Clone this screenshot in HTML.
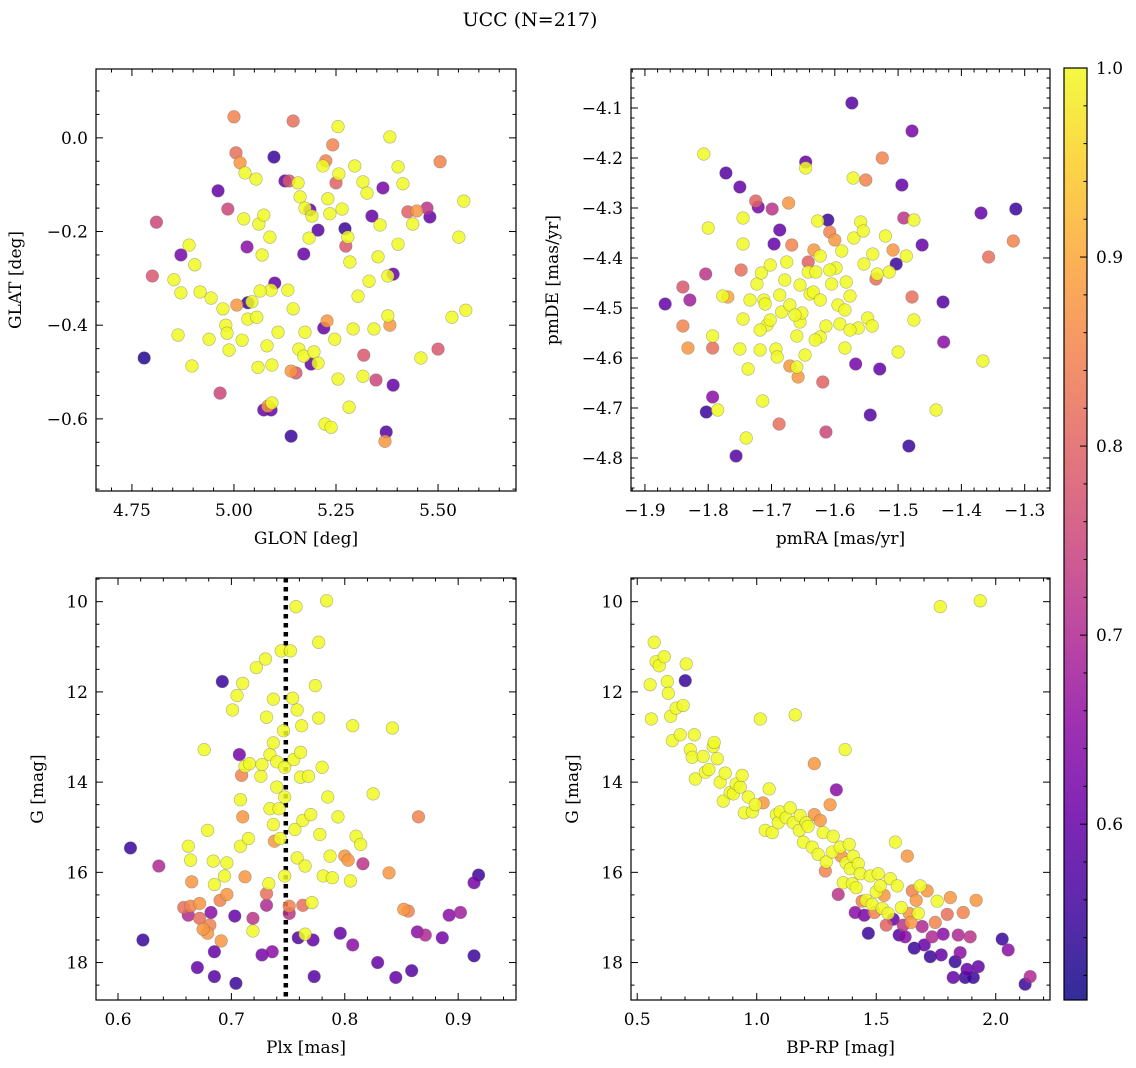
<!DOCTYPE html>
<html><head><meta charset="utf-8"><style>
body{margin:0;background:#fff;}
svg{display:block;font-family:"DejaVu Serif","Liberation Serif",serif;}
</style></head><body>
<svg id="fig" width="1136" height="1068" viewBox="0 0 1136 1068" xmlns="http://www.w3.org/2000/svg">
<defs><linearGradient id="cbg" x1="0" y1="1" x2="0" y2="0"></linearGradient></defs>
<text x="530" y="26" text-anchor="middle" font-size="19">UCC (N=217)</text>
</svg>
<script>
// ---- data ----
const p1Glon=[5.00,5.145,4.78,4.81,4.80,4.87,4.87,4.863,4.897,4.961,4.966,4.985,5.005,5.015,5.027,5.024,5.098,5.088,5.069,5.061,5.054,5.073,5.125,5.135,5.157,5.162,5.174,5.186,5.191,5.184,5.171,5.206,5.218,5.225,5.23,5.235,5.242,5.25,5.257,5.265,5.272,5.279,5.284,5.255,5.274,5.296,5.316,5.326,5.338,5.353,5.365,5.358,5.382,5.402,5.414,5.426,5.438,5.448,5.473,5.48,5.505,5.551,5.563,5.377,5.377,5.39,5.402,5.382,5.348,5.331,5.304,5.292,5.228,5.206,5.189,5.174,5.159,5.145,5.132,5.091,5.064,5.044,5.034,5.02,4.988,4.98,5.007,4.973,4.944,4.939,4.917,4.983,5.056,5.081,5.093,5.108,5.14,5.152,5.171,5.196,5.22,5.247,5.318,5.343,5.39,5.458,5.5,5.534,5.568,5.073,5.091,5.083,5.093,5.14,5.223,5.238,5.282,5.37,5.373,5.255,5.316,5.10,5.059,4.904,4.89,4.853,5.032,5.034];
const p1Glat=[0.045,0.036,-0.47,-0.18,-0.295,-0.25,-0.331,-0.421,-0.487,-0.113,-0.545,-0.152,-0.032,-0.053,-0.075,-0.173,-0.041,-0.212,-0.25,-0.184,-0.088,-0.165,-0.092,-0.092,-0.096,-0.126,-0.15,-0.154,-0.167,-0.214,-0.248,-0.197,-0.06,-0.049,-0.13,-0.162,-0.015,-0.096,-0.077,-0.152,-0.194,-0.212,-0.265,0.024,-0.231,-0.06,-0.094,-0.118,-0.167,-0.254,-0.107,-0.186,0.002,-0.062,-0.098,-0.158,-0.184,-0.156,-0.15,-0.169,-0.051,-0.212,-0.135,-0.38,-0.295,-0.291,-0.227,-0.40,-0.517,-0.306,-0.338,-0.408,-0.391,-0.481,-0.483,-0.415,-0.451,-0.365,-0.325,-0.325,-0.327,-0.35,-0.387,-0.432,-0.453,-0.40,-0.357,-0.365,-0.342,-0.43,-0.329,-0.417,-0.383,-0.444,-0.485,-0.415,-0.498,-0.502,-0.466,-0.457,-0.406,-0.43,-0.464,-0.408,-0.528,-0.47,-0.451,-0.383,-0.368,-0.581,-0.581,-0.573,-0.566,-0.637,-0.611,-0.618,-0.575,-0.648,-0.628,-0.515,-0.509,-0.31,-0.49,-0.271,-0.229,-0.303,-0.233,-0.352];
const p1Prob=[.85,.82,.53,.75,.78,.62,1,1,1,.6,.75,.75,.82,.88,1,1,.55,1,1,1,1,1,.6,.78,1,1,1,.6,1,1,.6,.58,1,.85,1,1,.85,.8,1,1,.55,1,1,1,.78,1,1,1,.6,1,.62,1,1,1,1,.8,1,.88,.72,.6,.85,1,1,1,1,.6,1,.88,.75,1,1,1,.88,1,.6,1,1,1,1,1,1,1,1,1,1,1,.88,1,1,1,1,1,1,1,1,1,.88,.78,1,1,.6,1,.78,1,.6,1,.78,1,1,.6,.6,.88,1,.55,1,1,1,.88,.58,1,1,.6,1,1,1,1,.65,.55];

const p2Pmra=[-1.868,-1.84,-1.84,-1.829,-1.832,-1.807,-1.804,-1.80,-1.803,-1.793,-1.793,-1.793,-1.785,-1.772,-1.777,-1.769,-1.75,-1.756,-1.748,-1.75,-1.745,-1.745,-1.745,-1.74,-1.737,-1.734,-1.725,-1.723,-1.721,-1.716,-1.714,-1.712,-1.71,-1.707,-1.702,-1.699,-1.696,-1.693,-1.691,-1.688,-1.687,-1.684,-1.676,-1.673,-1.671,-1.668,-1.66,-1.66,-1.658,-1.655,-1.652,-1.646,-1.646,-1.642,-1.642,-1.639,-1.634,-1.633,-1.63,-1.627,-1.623,-1.623,-1.619,-1.614,-1.614,-1.611,-1.608,-1.605,-1.6,-1.598,-1.595,-1.592,-1.589,-1.584,-1.582,-1.576,-1.573,-1.571,-1.57,-1.567,-1.563,-1.559,-1.555,-1.554,-1.551,-1.548,-1.544,-1.541,-1.54,-1.535,-1.533,-1.529,-1.525,-1.52,-1.514,-1.508,-1.503,-1.5,-1.494,-1.491,-1.487,-1.483,-1.478,-1.478,-1.475,-1.475,-1.462,-1.44,-1.429,-1.428,-1.369,-1.366,-1.357,-1.318,-1.314,-1.687,-1.671,-1.718,-1.702,-1.655,-1.623,-1.608,-1.584,-1.576,-1.631,-1.647,-1.679,-1.663,-1.718];
const p2Pmde=[-4.492,-4.458,-4.536,-4.484,-4.58,-4.192,-4.432,-4.34,-4.708,-4.678,-4.556,-4.58,-4.704,-4.23,-4.476,-4.478,-4.258,-4.796,-4.424,-4.582,-4.32,-4.372,-4.522,-4.76,-4.622,-4.484,-4.286,-4.452,-4.298,-4.43,-4.686,-4.484,-4.492,-4.534,-4.414,-4.302,-4.372,-4.582,-4.598,-4.732,-4.344,-4.508,-4.408,-4.29,-4.616,-4.374,-4.618,-4.556,-4.638,-4.528,-4.51,-4.22,-4.208,-4.428,-4.408,-4.472,-4.468,-4.384,-4.428,-4.326,-4.396,-4.558,-4.648,-4.536,-4.748,-4.324,-4.348,-4.452,-4.364,-4.42,-4.494,-4.532,-4.386,-4.58,-4.448,-4.476,-4.09,-4.24,-4.36,-4.612,-4.54,-4.328,-4.346,-4.412,-4.244,-4.52,-4.714,-4.536,-4.392,-4.442,-4.432,-4.622,-4.2,-4.356,-4.428,-4.384,-4.412,-4.588,-4.254,-4.32,-4.396,-4.776,-4.146,-4.478,-4.324,-4.524,-4.374,-4.704,-4.488,-4.568,-4.31,-4.606,-4.398,-4.366,-4.302,-4.474,-4.494,-4.544,-4.524,-4.454,-4.484,-4.424,-4.504,-4.544,-4.564,-4.594,-4.444,-4.514,-4.584];
const p2Prob=[.6,.78,.85,.68,.88,1,.72,1,.55,.65,1,.82,1,.58,1,.9,.6,.58,.82,1,1,1,1,1,1,1,.8,1,.62,1,1,1,1,1,1,.72,.6,1,1,.82,.6,1,1,.88,.88,.85,1,1,.88,1,1,1,.6,1,.8,1,1,.88,1,1,1,1,.8,1,.75,.55,.85,1,.88,1,1,1,1,1,1,1,.58,1,1,.62,1,1,1,1,.85,1,.58,1,1,.82,1,.6,.85,1,1,.88,.55,1,.6,.72,1,.55,.62,.82,1,1,.6,1,.58,.65,.6,1,.82,.85,.55,1,1,1,1,1,1,1,1,1,1,1,1,1,1];

const p3Plx=[.611,.622,.636,.662,.664,.665,.664,.658,.662,.672,.676,.679,.685,.684,.681,.679,.672,.675,.682,.685,.67,.685,.692,.69,.691,.696,.694,.696,.704,.703,.701,.705,.707,.709,.712,.71,.708,.708,.71,.712,.715,.716,.719,.719,.722,.726,.727,.727,.73,.731,.731,.731,.733,.734,.734,.736,.737,.737,.737,.738,.74,.74,.742,.743,.744,.746,.747,.747,.747,.751,.751,.752,.754,.755,.756,.757,.758,.758,.759,.761,.761,.762,.763,.763,.765,.765,.768,.77,.771,.772,.773,.774,.777,.777,.778,.78,.781,.784,.785,.787,.789,.794,.796,.8,.803,.805,.807,.807,.81,.814,.816,.825,.829,.839,.842,.859,.852,.856,.864,.865,.871,.886,.892,.902,.914,.918,.914,.845];
const p3G=[15.46,17.50,15.86,15.42,15.73,16.21,16.75,16.78,16.95,16.69,13.28,15.07,16.27,15.75,17.17,17.35,17.02,17.26,16.89,17.76,18.11,18.31,11.77,16.62,17.52,15.79,16.08,16.49,18.46,16.97,12.40,12.08,13.39,13.85,13.65,11.81,14.39,15.42,14.77,16.1,15.25,13.59,17.02,17.3,11.46,13.87,13.61,17.83,11.27,12.56,16.47,16.73,16.25,13.39,14.59,17.76,12.16,13.13,14.94,15.31,13.55,14.11,14.59,15.25,11.09,12.86,13.67,14.33,16.08,16.75,16.91,11.09,12.14,13.5,15.05,10.11,12.40,15.68,17.45,13.34,13.89,12.75,14.85,16.73,17.37,15.86,13.87,14.72,16.67,17.5,18.31,11.86,10.90,12.58,15.16,13.67,16.08,9.98,14.33,15.64,16.12,14.77,17.35,15.64,15.73,16.19,17.61,12.75,15.2,15.38,15.81,14.26,18.0,16.01,12.8,18.18,16.82,16.86,17.32,14.77,17.39,17.45,16.95,16.89,17.85,16.06,16.23,18.33];
const p3Prob=[.55,.55,.7,1,1,.88,.85,.82,.7,.88,1,1,1,1,.85,.88,.82,.88,.65,.6,.6,.58,.55,.85,.88,1,1,.88,.55,.6,1,1,.62,.85,1,1,1,1,.88,.88,1,1,.72,1,1,1,1,.62,1,1,.82,.7,1,1,1,.65,1,1,1,.88,1,1,1,1,1,1,1,1,1,.85,.72,1,1,1,1,1,1,1,.58,1,1,1,1,.82,1,1,1,1,1,.6,.58,1,1,1,1,1,1,1,1,1,1,1,.6,.88,.88,1,.65,1,1,1,.72,1,.6,.88,1,.58,.88,.85,.65,.85,.7,.62,.65,.68,.55,.55,.62,.6];
const p3PlxLine=0.748;

const p4Color=[.554,.559,.571,.579,.592,.613,.626,.63,.64,.647,.663,.68,.692,.701,.705,.722,.73,.739,.743,.776,.785,.8,.818,.822,.835,.847,.86,.868,.889,.902,.914,.931,.939,.948,.965,.982,.994,1.015,1.027,1.036,1.052,1.065,1.082,1.09,1.098,1.123,1.14,1.153,1.161,1.178,1.182,1.195,1.207,1.215,1.232,1.241,1.241,1.257,1.266,1.278,1.287,1.291,1.307,1.316,1.32,1.333,1.341,1.349,1.353,1.362,1.37,1.374,1.387,1.391,1.4,1.404,1.412,1.416,1.425,1.433,1.441,1.45,1.458,1.467,1.475,1.483,1.492,1.5,1.508,1.517,1.525,1.533,1.542,1.55,1.559,1.571,1.58,1.588,1.596,1.605,1.613,1.621,1.63,1.638,1.646,1.651,1.659,1.667,1.676,1.684,1.692,1.701,1.713,1.726,1.734,1.747,1.755,1.768,1.772,1.78,1.797,1.81,1.822,1.83,1.843,1.851,1.864,1.872,1.88,1.893,1.906,1.918,1.927,1.935,2.027,2.052,2.123,2.144];
const p4G=[11.84,12.6,10.9,11.33,11.42,11.22,11.77,12.03,12.54,13.08,12.36,12.95,12.3,11.75,11.38,13.28,13.45,12.95,13.93,13.43,13.78,13.72,13.21,13.12,13.48,14.0,14.42,13.8,14.23,14.26,14.04,14.11,13.85,14.68,14.33,14.66,14.5,12.6,14.46,15.07,14.15,15.12,14.72,14.9,14.66,14.79,14.57,14.9,12.51,15.07,14.74,15.33,14.9,14.98,15.44,14.72,13.59,15.6,14.85,15.12,15.97,15.77,14.5,15.55,15.2,14.17,16.49,15.44,15.64,16.23,13.28,15.79,15.38,15.92,16.25,15.64,16.89,16.34,15.81,16.03,16.64,16.95,16.62,17.35,16.08,16.71,16.89,16.43,16.03,16.3,16.8,16.51,17.17,16.91,16.14,17.04,15.33,16.3,17.39,16.78,17.17,17.43,15.64,16.91,17.11,16.41,17.68,16.62,16.91,16.3,17.2,17.61,16.41,17.87,17.43,17.11,16.64,10.11,17.83,17.37,16.93,16.56,18.33,17.98,17.39,17.78,16.89,18.33,18.15,17.43,18.33,16.62,18.09,9.98,17.48,17.72,18.48,18.31];
const p4Prob=[1,1,1,1,1,1,1,1,1,1,1,1,1,.55,1,1,1,1,1,1,1,1,1,1,1,1,1,1,1,1,1,1,1,1,1,1,1,1,.88,1,1,1,1,1,1,1,1,1,1,1,1,1,1,1,1,.88,.88,1,.88,1,.85,1,.88,1,1,.65,.72,1,.88,1,1,1,1,1,1,1,.65,1,1,1,.85,.62,1,.55,1,1,.85,1,1,1,1,.88,.8,1,1,.6,1,1,.58,1,.72,.65,.88,.88,.88,.85,.55,.88,1,1,.7,.6,.88,.55,.7,.85,1,1,.6,.65,.82,.88,.6,.55,.7,.65,.85,.55,.6,.72,.55,.88,.6,1,.55,.65,.55,.7];

const cbTicks=[0.6,0.7,0.8,0.9,1.0];
const VMIN=0.507, VMAX=1.0;

// ---- helpers ----
const NS="http://www.w3.org/2000/svg";
const svg=document.getElementById('fig');
const plasma=[[13,8,135],[65,4,157],[106,0,168],[143,13,164],[177,42,144],[204,71,120],[225,100,98],[242,132,75],[252,166,54],[252,206,37],[240,249,33]];
function cmap(v){let t=(v-VMIN)/(VMAX-VMIN);t=Math.max(0,Math.min(1,t))*10;const i=Math.min(9,Math.floor(t)),f=t-i;const a=plasma[i],b=plasma[i+1];return 'rgb('+a.map((c,k)=>Math.round(c+(b[k]-c)*f)).join(',')+')';}
function mk(tag,attrs,parent){const e=document.createElementNS(NS,tag);for(const k in attrs)e.setAttribute(k,attrs[k]);(parent||svg).appendChild(e);return e;}
function fmt(v,d){const s=Math.abs(v).toFixed(d);return (v<-1e-9?'\u2212':'')+s;}

function panel(o){
  const g=mk('g',{});
  
  
  const sx=v=>o.x0+(v-o.xmin)/(o.xmax-o.xmin)*(o.x1-o.x0);
  const sy=o.yinv? v=>o.y0+(v-o.ymin)/(o.ymax-o.ymin)*(o.y1-o.y0) : v=>o.y1-(v-o.ymin)/(o.ymax-o.ymin)*(o.y1-o.y0);
  if(o.vline!==undefined){
    const l=mk('line',{x1:sx(o.vline),x2:sx(o.vline),y1:o.y0,y2:o.y1,stroke:'#000','stroke-width':4.5,'stroke-dasharray':'4.5,4.5'},g);
    
    
  }
  const pts=mk('g',{},g);
  
  
  const order=o.xs.map((_,i)=>i).sort((a,b)=>o.c[a]-o.c[b]);
  order.forEach(i=>{
    const c=mk('circle',{cx:sx(o.xs[i]),cy:sy(o.ys[i]),r:6.3,fill:cmap(o.c[i]),'fill-opacity':0.85,stroke:'#666','stroke-opacity':0.5,'stroke-width':0.6},pts);
    
    
  });
  const fr=mk('rect',{x:o.x0,y:o.y0,width:o.x1-o.x0,height:o.y1-o.y0,fill:'none',stroke:'#000','stroke-width':1.2},g);
  
  
  const eps=1e-9;
  for(let v=Math.ceil(o.xmin/o.xminor-eps)*o.xminor;v<=o.xmax+eps;v+=o.xminor){
    const major=Math.abs(v/o.xmajor-Math.round(v/o.xmajor))<1e-6;const L=major?7:3.5;const X=sx(v);
    mk('line',{x1:X,x2:X,y1:o.y1,y2:o.y1-L,stroke:'#000','stroke-width':1},g);
    mk('line',{x1:X,x2:X,y1:o.y0,y2:o.y0+L,stroke:'#000','stroke-width':1},g);
    if(major){const t=mk('text',{x:X,y:o.y1+25,'text-anchor':'middle','font-size':17},g);t.textContent=fmt(v,o.xdec);
      
      }
  }
  for(let v=Math.ceil(o.ymin/o.yminor-eps)*o.yminor;v<=o.ymax+eps;v+=o.yminor){
    const major=Math.abs(v/o.ymajor-Math.round(v/o.ymajor))<1e-6;const L=major?7:3.5;const Y=sy(v);
    mk('line',{x1:o.x0,x2:o.x0+L,y1:Y,y2:Y,stroke:'#000','stroke-width':1},g);
    mk('line',{x1:o.x1,x2:o.x1-L,y1:Y,y2:Y,stroke:'#000','stroke-width':1},g);
    if(major){const t=mk('text',{x:o.x0-8,y:Y+6,'text-anchor':'end','font-size':17},g);t.textContent=fmt(v,o.ydec);
      
      }
  }
  const xl=mk('text',{x:(o.x0+o.x1)/2,y:o.y1+53,'text-anchor':'middle','font-size':17},g);xl.textContent=o.xlabel;
  
  
  const yx=o.x0-o.ylabOff, yy=(o.y0+o.y1)/2;
  const yl=mk('text',{x:yx,y:yy,'text-anchor':'middle','font-size':17,transform:'rotate(-90 '+yx+' '+yy+')'},g);yl.textContent=o.ylabel;
  
  
}

panel({name:'glon-glat-panel',x0:96,x1:516,y0:69,y1:491,xmin:4.662,xmax:5.691,ymin:-0.754,ymax:0.147,xmajor:0.25,xminor:0.05,ymajor:0.2,yminor:0.05,xdec:2,ydec:1,xs:p1Glon,ys:p1Glat,c:p1Prob,xlabel:'GLON [deg]',ylabel:'GLAT [deg]',ylabOff:75});
panel({name:'proper-motion-panel',x0:631,x1:1050,y0:69,y1:491,xmin:-1.922,xmax:-1.260,ymin:-4.866,ymax:-4.022,xmajor:0.1,xminor:0.02,ymajor:0.1,yminor:0.02,xdec:1,ydec:1,xs:p2Pmra,ys:p2Pmde,c:p2Prob,xlabel:'pmRA [mas/yr]',ylabel:'pmDE [mas/yr]',ylabOff:73});
panel({name:'parallax-magnitude-panel',x0:96,x1:516,y0:578,y1:1000,xmin:0.5806,xmax:0.951,ymin:9.475,ymax:18.83,yinv:true,xmajor:0.1,xminor:0.02,ymajor:2,yminor:0.5,xdec:1,ydec:0,xs:p3Plx,ys:p3G,c:p3Prob,xlabel:'Plx [mas]',ylabel:'G [mag]',ylabOff:53,vline:p3PlxLine});
panel({name:'color-magnitude-panel',x0:631,x1:1050,y0:578,y1:1000,xmin:0.474,xmax:2.227,ymin:9.475,ymax:18.83,yinv:true,xmajor:0.5,xminor:0.1,ymajor:2,yminor:0.5,xdec:1,ydec:0,xs:p4Color,ys:p4G,c:p4Prob,xlabel:'BP-RP [mag]',ylabel:'G [mag]',ylabOff:53});

// colorbar
const grad=document.getElementById('cbg');
for(let i=0;i<=10;i++){mk('stop',{offset:i/10,'stop-color':cmap(VMIN+(VMAX-VMIN)*i/10),'stop-opacity':0.85},grad);}
const cb=mk('g',{});


const cy0=68,cy1=1000,cx0=1064,cx1=1087;
const cys=v=>cy1-(v-VMIN)/(VMAX-VMIN)*(cy1-cy0);
mk('rect',{x:cx0,y:cy0,width:cx1-cx0,height:cy1-cy0,fill:'url(#cbg)',stroke:'#000','stroke-width':1.2},cb);
for(let v=0.52;v<=1.0001;v+=0.02){const Y=cys(v);const major=Math.abs(v*10-Math.round(v*10))<1e-6;
  mk('line',{x1:cx1,x2:cx1-(major?7:3.5),y1:Y,y2:Y,stroke:'#000','stroke-width':1},cb);}
cbTicks.forEach(v=>{const t=mk('text',{x:cx1+9,y:cys(v)+6,'font-size':17},cb);t.textContent=v.toFixed(1);
  
  });
</script>
</body></html>
